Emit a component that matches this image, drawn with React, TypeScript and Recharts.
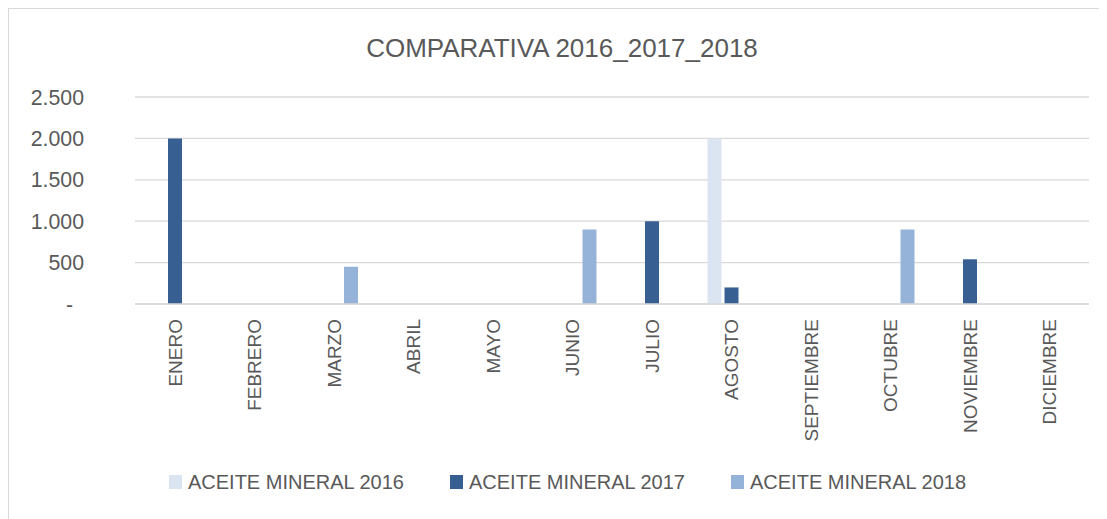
import React from 'react';
import { BarChart, Bar, XAxis, YAxis, CartesianGrid, Legend } from 'recharts';

const months = ['ENERO', 'FEBRERO', 'MARZO', 'ABRIL', 'MAYO', 'JUNIO', 'JULIO', 'AGOSTO', 'SEPTIEMBRE', 'OCTUBRE', 'NOVIEMBRE', 'DICIEMBRE'];
const aceite2016 = [0, 0, 0, 0, 0, 0, 0, 2000, 0, 0, 0, 0];
const aceite2017 = [2000, 0, 0, 0, 0, 0, 1000, 200, 0, 0, 540, 0];
const aceite2018 = [0, 0, 450, 0, 0, 900, 0, 0, 0, 900, 0, 0];
const yTicks = [0, 500, 1000, 1500, 2000, 2500];

const seriesList = [
  { key: 'a2016', name: 'ACEITE MINERAL 2016', color: '#dbe4f1' },
  { key: 'a2017', name: 'ACEITE MINERAL 2017', color: '#375f92' },
  { key: 'a2018', name: 'ACEITE MINERAL 2018', color: '#95b3d8' },
];

const data = months.map((m, i) => ({
  month: m,
  a2016: aceite2016[i],
  a2017: aceite2017[i],
  a2018: aceite2018[i],
}));

const FONT = "'Liberation Sans', Arial, sans-serif";
const TEXT = '#595959';

const fmt = (v: number) => {
  if (v === 0) return '-';
  return v.toString().replace(/\B(?=(\d{3})+(?!\d))/g, '.');
};

const YTick = (props: any) => {
  const { x, y, payload } = props;
  const v = payload.value as number;
  const isZero = v === 0;
  return (
    <text
      x={x - (isZero ? 62 : 51)}
      y={y}
      dy={7.5}
      textAnchor="end"
      fill={TEXT}
      fontSize={21.3}
      fontFamily={FONT}
    >
      {fmt(v)}
    </text>
  );
};

const XTick = (props: any) => {
  const { x, y, payload } = props;
  return (
    <g transform={`translate(${x},${y + 15})`}>
      <text
        transform="rotate(-90)"
        x={0}
        y={0}
        dy="0.36em"
        textAnchor="end"
        fill={TEXT}
        fontSize={19}
        fontFamily={FONT}
      >
        {payload.value}
      </text>
    </g>
  );
};

const LegendContent = () => (
  <div
    style={{
      display: 'flex',
      justifyContent: 'center',
      alignItems: 'center',
      height: 20,
      fontFamily: FONT,
      fontSize: 20,
      lineHeight: '20px',
      color: TEXT,
    }}
  >
    {seriesList.map((s, i) => (
      <div key={s.key} style={{ display: 'flex', alignItems: 'center', marginLeft: i === 0 ? 0 : 46 }}>
        <span style={{ display: 'inline-block', width: 13, height: 14, background: s.color, marginRight: 6 }} />
        <span style={{ whiteSpace: 'nowrap' }}>{s.name}</span>
      </div>
    ))}
  </div>
);

export default function App() {
  return (
    <div
      style={{
        width: 1099,
        height: 511,
        overflow: 'hidden',
        position: 'relative',
        borderLeft: '1px solid #d9d9d9',
        borderTop: '1px solid #d9d9d9',
        boxSizing: 'border-box',
        background: '#ffffff',
      }}
    >
      <div style={{ position: 'absolute', left: -1, top: -1, width: 1115, height: 511 }}>
        <div
          style={{
            position: 'absolute',
            left: 0,
            top: 27,
            width: 1108,
            textAlign: 'center',
            fontFamily: FONT,
            fontSize: 26,
            lineHeight: '26px',
            color: TEXT,
            whiteSpace: 'nowrap',
          }}
        >
          COMPARATIVA 2016_2017_2018
        </div>
        <BarChart
          width={1115}
          height={511}
          data={data}
          margin={{ top: 89, right: 34, bottom: 0, left: 0 }}
          barSize={14}
          barGap={3}
        >
          <CartesianGrid vertical={false} stroke="#d9d9d9" strokeWidth={1.3} />
          <XAxis
            dataKey="month"
            interval={0}
            height={215}
            tickSize={0}
            tickMargin={0}
            tick={<XTick />}
            axisLine={{ stroke: '#d9d9d9', strokeWidth: 1.3 }}
            tickLine={false}
          />
          <YAxis
            width={127}
            domain={[0, 2500]}
            ticks={yTicks}
            tickSize={0}
            tickMargin={0}
            tick={<YTick />}
            axisLine={false}
            tickLine={false}
          />
          <Legend
            layout="horizontal"
            verticalAlign="middle"
            align="center"
            content={<LegendContent />}
            wrapperStyle={{ position: 'absolute', top: 464, left: 2, width: 1115 }}
          />
          {seriesList.map((s) => (
            <Bar key={s.key} dataKey={s.key} name={s.name} fill={s.color} isAnimationActive={false} />
          ))}
        </BarChart>
      </div>
    </div>
  );
}
